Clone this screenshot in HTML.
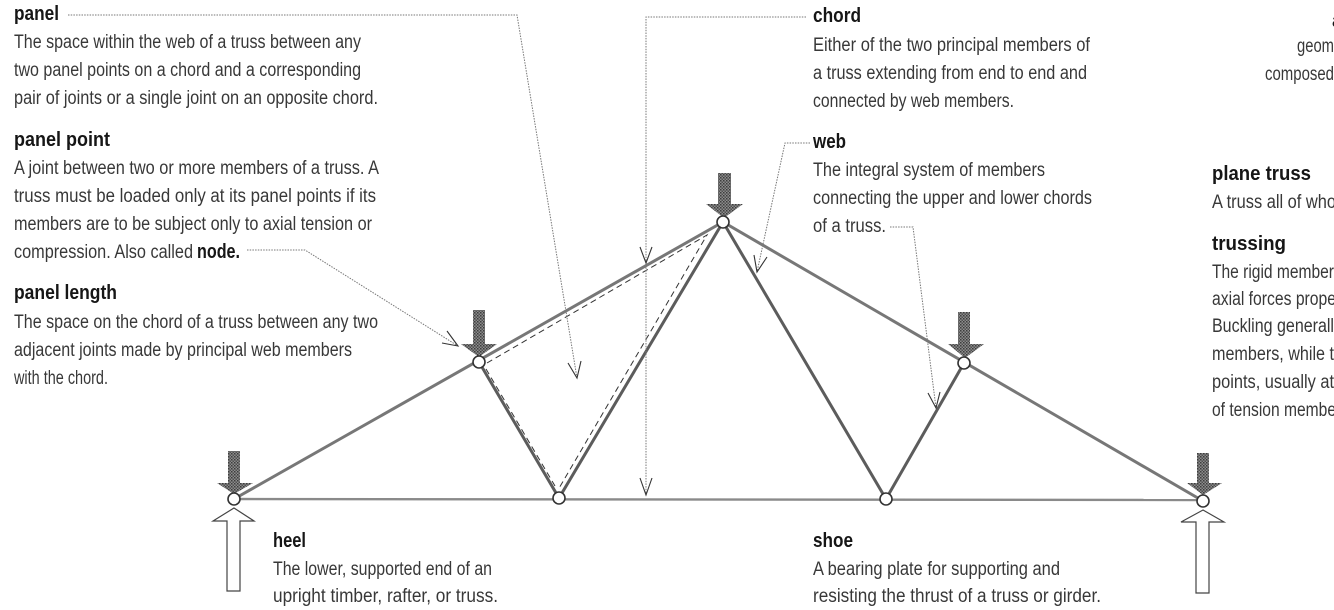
<!DOCTYPE html>
<html><head><meta charset="utf-8">
<style>
html,body{margin:0;padding:0;background:#fff;width:1334px;height:610px;overflow:hidden}
svg{display:block}
text{font-family:"Liberation Sans Narrow","Liberation Sans",sans-serif;font-size:19px;fill:#383838}
text.h{font-weight:bold;fill:#161616;font-size:20px}
.m{stroke:#777;stroke-width:3;fill:none}
.w{stroke:#5c5c5c;stroke-width:3;fill:none}
.b{stroke:#8a8a8a;stroke-width:2.4;fill:none}
.d{stroke:#333;stroke-width:1;stroke-dasharray:6 4;fill:none}
.l{stroke:#777;stroke-width:1;stroke-dasharray:1.5 1.2;fill:none}
.a{stroke:#333;stroke-width:1.1;fill:none}
.n{fill:#fff;stroke:#333;stroke-width:1.6}
.dn{fill:url(#st)}
.up{fill:#fff;stroke:#444;stroke-width:1.2}
</style></head><body>
<svg width="1334" height="610" viewBox="0 0 1334 610" xmlns="http://www.w3.org/2000/svg">
<defs>
<pattern id="st" width="3" height="3" patternUnits="userSpaceOnUse">
<rect width="3" height="3" fill="#8c8c8c"/>
<rect width="1.5" height="1.5" fill="#3c3c3c"/>
<rect x="1.5" y="1.5" width="1.5" height="1.5" fill="#505050"/>
</pattern>
</defs>
<!-- members -->
<path class="m" d="M234 499L723 222L1203 501"/>
<path class="b" d="M234 499L1203 500"/>
<path class="w" d="M479 362L559 498L723 222L886 499L964 363"/>
<path class="d" d="M487 363L707 235L558 490"/>
<path class="d" d="M486 369L555 486"/>
<!-- leaders -->
<path class="l" d="M68 15H517L577 378"/>
<path class="a" d="M568 363L577 378L581 361"/>
<path class="l" d="M806 17H646V495"/>
<path class="a" d="M640 247L646 263L652 247"/>
<path class="a" d="M640 478L646 495L652 478"/>
<path class="l" d="M810 143H785L757 272"/>
<path class="a" d="M754 255L757 272L767 257"/>
<path class="l" d="M890 227H913L936 408"/>
<path class="a" d="M928 393L936 408L940 392"/>
<path class="l" d="M247 250H305L458 346"/>
<path class="a" d="M447 331L458 346L442 343"/>
<!-- load arrows -->
<path class="dn" d="M228 451H240V483H253L234 494L217 483H228Z"/>
<path class="dn" d="M473 310H485V344H497L479 357L461 344H473Z"/>
<path class="dn" d="M718 173H731V204H743L724 218L706 204H718Z"/>
<path class="dn" d="M958 312H970V344H984L965 358L948 344H958Z"/>
<path class="dn" d="M1197 453H1209V483H1222L1203 495L1187 483H1197Z"/>
<path class="up" d="M234 508L254 521H240V591H227V521H213Z"/>
<path class="up" d="M1203 510L1224 522H1209V593H1196V522H1181Z"/>
<!-- nodes -->
<circle class="n" cx="234" cy="499" r="6"/>
<circle class="n" cx="479" cy="362" r="6"/>
<circle class="n" cx="559" cy="498" r="6"/>
<circle class="n" cx="723" cy="222" r="6"/>
<circle class="n" cx="886" cy="499" r="6"/>
<circle class="n" cx="964" cy="363" r="6"/>
<circle class="n" cx="1203" cy="501" r="6"/>
<!-- left -->
<text class="h" x="14" y="20" textLength="45" lengthAdjust="spacingAndGlyphs">panel</text>
<text x="14" y="48" textLength="347" lengthAdjust="spacingAndGlyphs">The space within the web of a truss between any</text>
<text x="14" y="76" textLength="347" lengthAdjust="spacingAndGlyphs">two panel points on a chord and a corresponding</text>
<text x="14" y="104" textLength="364" lengthAdjust="spacingAndGlyphs">pair of joints or a single joint on an opposite chord.</text>
<text class="h" x="14" y="146" textLength="96" lengthAdjust="spacingAndGlyphs">panel point</text>
<text x="14" y="174" textLength="365" lengthAdjust="spacingAndGlyphs">A joint between two or more members of a truss. A</text>
<text x="14" y="202" textLength="362" lengthAdjust="spacingAndGlyphs">truss must be loaded only at its panel points if its</text>
<text x="14" y="230" textLength="358" lengthAdjust="spacingAndGlyphs">members are to be subject only to axial tension or</text>
<text x="14" y="258" textLength="179" lengthAdjust="spacingAndGlyphs">compression. Also called</text>
<text class="h" x="197" y="258" textLength="43" lengthAdjust="spacingAndGlyphs">node.</text>
<text class="h" x="14" y="299" textLength="103" lengthAdjust="spacingAndGlyphs">panel length</text>
<text x="14" y="328" textLength="364" lengthAdjust="spacingAndGlyphs">The space on the chord of a truss between any two</text>
<text x="14" y="356" textLength="338" lengthAdjust="spacingAndGlyphs">adjacent joints made by principal web members</text>
<text x="14" y="384" textLength="94" lengthAdjust="spacingAndGlyphs">with the chord.</text>
<!-- middle -->
<text class="h" x="813" y="22" textLength="48" lengthAdjust="spacingAndGlyphs">chord</text>
<text x="813" y="51" textLength="277" lengthAdjust="spacingAndGlyphs">Either of the two principal members of</text>
<text x="813" y="79" textLength="274" lengthAdjust="spacingAndGlyphs">a truss extending from end to end and</text>
<text x="813" y="107" textLength="201" lengthAdjust="spacingAndGlyphs">connected by web members.</text>
<text class="h" x="813" y="148" textLength="33" lengthAdjust="spacingAndGlyphs">web</text>
<text x="813" y="176" textLength="232" lengthAdjust="spacingAndGlyphs">The integral system of members</text>
<text x="813" y="204" textLength="279" lengthAdjust="spacingAndGlyphs">connecting the upper and lower chords</text>
<text x="813" y="232" textLength="73" lengthAdjust="spacingAndGlyphs">of a truss.</text>
<!-- right -->
<text class="h" x="1332" y="27">a</text>
<text x="1297" y="52" textLength="37" lengthAdjust="spacingAndGlyphs">geom</text>
<text x="1265" y="80" textLength="69" lengthAdjust="spacingAndGlyphs">composed</text>
<text class="h" x="1212" y="180" textLength="99" lengthAdjust="spacingAndGlyphs">plane truss</text>
<text x="1212" y="208" textLength="124" lengthAdjust="spacingAndGlyphs">A truss all of who</text>
<text class="h" x="1212" y="250" textLength="74" lengthAdjust="spacingAndGlyphs">trussing</text>
<text x="1212" y="278" textLength="122" lengthAdjust="spacingAndGlyphs">The rigid member</text>
<text x="1212" y="305" textLength="124" lengthAdjust="spacingAndGlyphs">axial forces prope</text>
<text x="1212" y="332" textLength="122" lengthAdjust="spacingAndGlyphs">Buckling generall</text>
<text x="1212" y="360" textLength="122" lengthAdjust="spacingAndGlyphs">members, while t</text>
<text x="1212" y="388" textLength="122" lengthAdjust="spacingAndGlyphs">points, usually at</text>
<text x="1212" y="416" textLength="124" lengthAdjust="spacingAndGlyphs">of tension membe</text>
<!-- bottom -->
<text class="h" x="273" y="547" textLength="33" lengthAdjust="spacingAndGlyphs">heel</text>
<text x="273" y="575" textLength="219" lengthAdjust="spacingAndGlyphs">The lower, supported end of an</text>
<text x="273" y="602" textLength="225" lengthAdjust="spacingAndGlyphs">upright timber, rafter, or truss.</text>
<text class="h" x="813" y="547" textLength="40" lengthAdjust="spacingAndGlyphs">shoe</text>
<text x="813" y="575" textLength="247" lengthAdjust="spacingAndGlyphs">A bearing plate for supporting and</text>
<text x="813" y="602" textLength="288" lengthAdjust="spacingAndGlyphs">resisting the thrust of a truss or girder.</text>
</svg>
</body></html>
